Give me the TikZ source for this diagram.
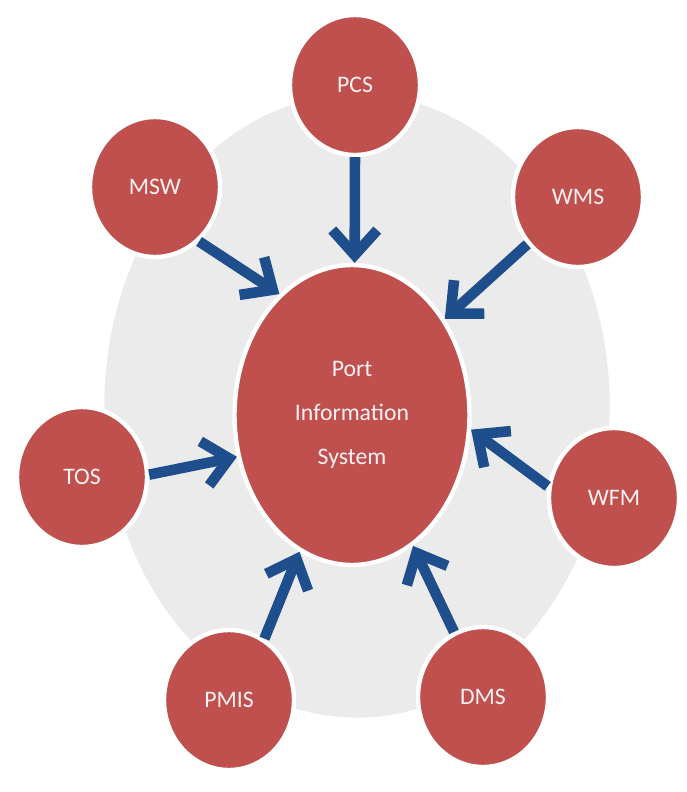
\documentclass[tikz,border=0pt]{standalone}
\usepackage{fontspec}
\setmainfont{Carlito}
\usetikzlibrary{arrows.meta,shapes.geometric}
\definecolor{hubred}{RGB}{192,80,77}
\definecolor{ringgray}{RGB}{235,235,235}
\definecolor{feedblue}{RGB}{31,78,140}
\tikzset{
    ring/.style = {
        fill = ringgray,
        draw = white,
        line width = 2.5pt,
        },
    sat node/.style = {
        ellipse,
        fill = hubred,
        draw = white,
        line width = 2.5pt,
        text = white!92!hubred,
        minimum width = 2.6cm,
        minimum height = 2.8cm,
        font = \fontsize{13.5}{16}\selectfont,
        },
    hub node/.style = {
        sat node,
        minimum width = 4.7cm,
        minimum height = 6cm,
        align = center,
        font = \fontsize{13.5}{25}\selectfont,
        },
    feed/.style = {
        draw = feedblue,
        line width = 6pt,
        -{Straight Barb[length=0.5cm, width=0.9cm, sharp]},
        },
}

\begin{document}
\begin{tikzpicture}[x=0.02cm, y=-0.02cm]
            \useasboundingbox (0,0) rectangle (687,792);
            \path[ring] (357,406) ellipse [x radius=5.1cm, y radius=6.28cm];

            \node[hub node] (pis) at (352,415) {Port\\Information\\System};
            \node[sat node] (pcs) at (355,85) {PCS};
            \node[sat node] (msw) at (155,187) {MSW};
            \node[sat node] (wms) at (578,197) {WMS};
            \node[sat node] (tos) at (82,477) {TOS};
            \node[sat node] (wfm) at (614,498) {WFM};
            \node[sat node] (pmis) at (229,700) {PMIS};
            \node[sat node] (dms) at (483,697) {DMS};

            \path (pcs.south) edge[feed] (pis.89);
            \path (msw.-51) edge[feed] (pis.121);
            \path (wms.-137) edge[feed] (pis.46);
            \path (tos.2) edge[feed] (pis.200);
            \path (wfm.170) edge[feed] (pis.-7);
            \path (pmis.60) edge[feed] (pis.249);
            \path (dms.114) edge[feed] (pis.-65);
        \end{tikzpicture}
\end{document}
